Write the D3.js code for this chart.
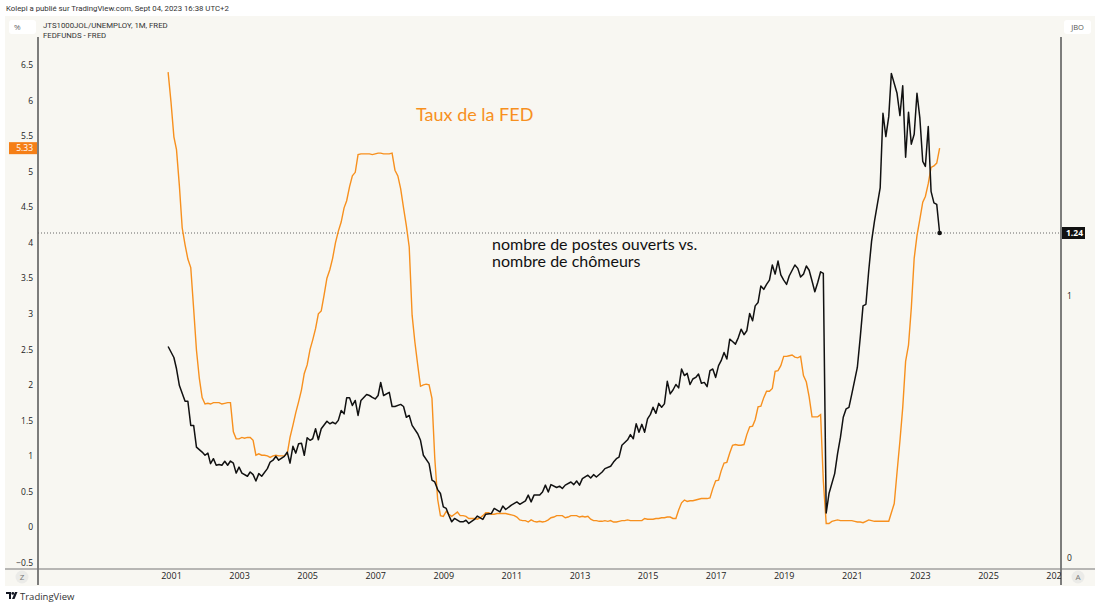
<!DOCTYPE html>
<html>
<head>
<meta charset="utf-8">
<title>Taux de la FED vs postes ouverts</title>
<script src="https://d3js.org/d3.v7.min.js"></script>
<style>
  * { margin:0; padding:0; }
  body { background:#fff; }
  svg text { font-family: "Open Sans", sans-serif; }
  .tick text { fill:#222; font-size:8.5px; }
  .xaxis .tick text { font-size:9px; }
  .small { font-family: Roboto, sans-serif !important; }
  .note { font-family: Lato, sans-serif !important; }
</style>
</head>
<body>
<svg id="chart" width="1100" height="608"></svg>
<script>
// FEDFUNDS, monthly, 2000-12 .. 2023-08 (left scale, %)
const fedStart = "2000-12";
const fedFunds = [6.40,
  5.98,5.49,5.31,4.80,4.21,3.97,3.77,3.65,3.07,2.49,2.09,1.82,
  1.73,1.74,1.73,1.75,1.75,1.75,1.73,1.74,1.75,1.75,1.34,1.24,
  1.24,1.26,1.25,1.26,1.26,1.22,1.01,1.03,1.01,1.01,1.00,0.98,
  1.00,1.01,1.00,1.00,1.00,1.03,1.26,1.43,1.61,1.76,1.93,2.16,
  2.28,2.50,2.63,2.79,3.00,3.04,3.26,3.50,3.62,3.78,4.00,4.16,
  4.29,4.49,4.59,4.79,4.94,4.99,5.24,5.25,5.25,5.25,5.25,5.24,
  5.25,5.26,5.26,5.25,5.25,5.25,5.26,5.02,4.94,4.76,4.49,4.24,
  3.94,2.98,2.61,2.28,1.98,2.00,2.01,2.00,1.81,0.97,0.39,0.16,
  0.15,0.22,0.18,0.15,0.18,0.21,0.16,0.16,0.15,0.12,0.12,0.12,
  0.11,0.13,0.16,0.20,0.20,0.18,0.18,0.19,0.19,0.19,0.19,0.18,
  0.17,0.16,0.14,0.10,0.09,0.09,0.07,0.10,0.08,0.07,0.08,0.07,
  0.08,0.10,0.13,0.14,0.16,0.16,0.16,0.13,0.14,0.16,0.16,0.16,
  0.14,0.15,0.14,0.15,0.11,0.09,0.09,0.08,0.08,0.09,0.08,0.09,
  0.07,0.07,0.08,0.09,0.09,0.10,0.09,0.09,0.09,0.09,0.09,0.12,
  0.11,0.11,0.11,0.12,0.12,0.13,0.13,0.14,0.14,0.12,0.12,0.24,
  0.34,0.38,0.36,0.37,0.37,0.38,0.39,0.40,0.40,0.40,0.41,0.54,
  0.65,0.66,0.79,0.90,0.91,1.04,1.15,1.16,1.15,1.15,1.16,1.30,
  1.41,1.42,1.51,1.69,1.70,1.82,1.91,1.91,1.95,2.19,2.20,2.27,
  2.40,2.40,2.41,2.42,2.39,2.38,2.40,2.13,2.04,1.83,1.55,1.55,
  1.55,1.58,0.65,0.05,0.05,0.08,0.09,0.10,0.09,0.09,0.09,0.09,
  0.09,0.08,0.07,0.07,0.06,0.08,0.10,0.09,0.08,0.08,0.08,0.08,
  0.08,0.08,0.20,0.33,0.77,1.21,1.68,2.33,2.56,3.08,3.78,4.10,
  4.33,4.57,4.65,4.83,5.06,5.08,5.12,5.33];

// JTS1000JOL/UNEMPLOY (right scale), months counted from 2000-12
const jobMonth = [0,2,3,4,6,7,8,9,10,12,13,14,15,16,17,18,19,20,21,22,23,24,25,26,28,29,30,31,32,33,35,36,37,38,39,41,42,43,44,45,46,47,48,49,50,51,52,53,54,56,57,58,59,60,61,62,63,64,65,66,67,68,70,71,72,73,74,75,76,78,79,80,82,83,84,85,86,88,89,90,92,93,94,95,96,97,98,99,100,101,103,104,105,106,108,109,111,112,114,115,117,118,119,121,123,124,126,127,128,129,131,132,133,134,135,137,138,139,140,142,143,144,145,146,148,149,150,151,153,154,156,157,158,159,160,162,163,164,165,166,167,168,169,170,171,172,173,174,175,176,177,178,179,180,181,182,183,184,185,186,187,188,189,190,191,192,193,194,195,196,197,198,199,200,201,202,203,204,205,206,207,208,209,210,211,212,213,214,215,216,217,218,219,221,222,223,224,225,226,227,228,229,230,231,232,233,235,236,237,238,239,240,241,243,244,245,246,247,248,249,251,252,253,254,255,257,258,259,260,261,262,263,264,265,266,267,268,269,270,271,272];
const jobRatio = [0.807,0.765,0.722,0.658,0.598,0.598,0.506,0.506,0.423,0.404,0.392,0.400,0.360,0.379,0.354,0.357,0.354,0.369,0.354,0.370,0.362,0.324,0.347,0.324,0.312,0.328,0.318,0.294,0.322,0.312,0.341,0.366,0.373,0.388,0.373,0.388,0.404,0.362,0.426,0.400,0.436,0.438,0.392,0.459,0.449,0.455,0.493,0.451,0.493,0.522,0.512,0.518,0.512,0.525,0.563,0.550,0.611,0.611,0.582,0.601,0.544,0.601,0.624,0.620,0.613,0.607,0.620,0.670,0.620,0.632,0.578,0.578,0.586,0.578,0.537,0.544,0.506,0.474,0.449,0.392,0.360,0.297,0.290,0.261,0.246,0.195,0.189,0.163,0.138,0.151,0.138,0.138,0.144,0.132,0.147,0.160,0.147,0.167,0.170,0.189,0.176,0.198,0.185,0.202,0.214,0.205,0.218,0.240,0.214,0.240,0.240,0.252,0.278,0.252,0.280,0.269,0.274,0.265,0.278,0.290,0.280,0.294,0.278,0.303,0.316,0.305,0.318,0.309,0.328,0.341,0.350,0.366,0.379,0.385,0.430,0.451,0.471,0.455,0.512,0.480,0.510,0.480,0.531,0.548,0.575,0.552,0.590,0.575,0.588,0.674,0.626,0.641,0.662,0.649,0.721,0.696,0.705,0.662,0.683,0.689,0.702,0.667,0.670,0.654,0.715,0.721,0.689,0.734,0.753,0.784,0.759,0.835,0.826,0.816,0.841,0.873,0.852,0.867,0.933,0.905,0.962,0.975,1.038,1.025,1.044,1.060,1.118,1.083,1.133,1.080,1.060,1.044,1.076,1.118,1.105,1.072,1.083,1.114,1.098,1.057,1.016,1.051,1.092,1.086,0.172,0.246,0.322,0.398,0.461,0.537,0.569,0.575,0.626,0.727,0.841,0.962,0.968,1.095,1.209,1.285,1.412,1.697,1.608,1.684,1.849,1.773,1.688,1.802,1.529,1.701,1.579,1.617,1.773,1.678,1.513,1.494,1.646,1.399,1.355,1.349,1.240];

const leftTicks = [-0.5,0,0.5,1,1.5,2,2.5,3,3.5,4,4.5,5,5.5,6,6.5];
const rightTicks = [0,1];
const yearTicks = [2001,2003,2005,2007,2009,2011,2013,2015,2017,2019,2021,2023,2025,2027];

const orange = "#f7901e";
const plot = {left:38, right:1061, top:37, bottom:569};

const svg = d3.select("#chart");
const parseMonth = d3.timeParse("%Y-%m");
const t0 = parseMonth(fedStart);

const fedData = fedFunds.map((v, i) => ({date: d3.timeMonth.offset(t0, i), v: v}));
const jobData = jobMonth.map((m, i) => ({date: d3.timeMonth.offset(t0, m), v: jobRatio[i]}));

const x = d3.scaleTime()
  .domain([new Date(2001, 0, 1), new Date(2025, 0, 1)])
  .range([171, 988]);
const yL = d3.scaleLinear().domain([0, 6.5]).range([527, 65]);
const yR = d3.scaleLinear().domain([0, 1.24]).range([558, 233]);

// panel background
svg.append("rect").attr("x", 5).attr("y", 16).attr("width", 1090).attr("height", 570).attr("fill", "#f8f7f2");

svg.append("text").attr("class", "small").attr("x", 6).attr("y", 11).attr("font-size", 7.8).attr("fill", "#333")
  .text("Kolepi a publié sur TradingView.com, Sept 04, 2023 16:38 UTC+2");

// clips
svg.append("clipPath").attr("id", "plotclip").append("rect")
  .attr("x", plot.left).attr("y", plot.top)
  .attr("width", plot.right - plot.left).attr("height", plot.bottom - plot.top);
svg.append("clipPath").attr("id", "xclip").append("rect")
  .attr("x", plot.left).attr("y", plot.bottom).attr("width", plot.right - plot.left).attr("height", 20);

// last value price line (dotted)
svg.append("line")
  .attr("x1", plot.left).attr("x2", plot.right)
  .attr("y1", yR(jobRatio[jobRatio.length - 1])).attr("y2", yR(jobRatio[jobRatio.length - 1]))
  .attr("stroke", "#666").attr("stroke-width", 1).attr("stroke-dasharray", "1,2");

const g = svg.append("g").attr("clip-path", "url(#plotclip)");

g.append("path").datum(fedData)
  .attr("fill", "none").attr("stroke", orange).attr("stroke-width", 1.4)
  .attr("d", d3.line().x(d => x(d.date)).y(d => yL(d.v)));

g.append("path").datum(jobData)
  .attr("fill", "none").attr("stroke", "#111").attr("stroke-width", 1.5)
  .attr("stroke-linejoin", "round")
  .attr("d", d3.line().x(d => x(d.date)).y(d => yR(d.v)));

const lastJob = jobData[jobData.length - 1];
g.append("circle").attr("cx", x(lastJob.date)).attr("cy", yR(lastJob.v)).attr("r", 2.3).attr("fill", "#111");

// axes lines
svg.append("line").attr("x1", plot.left).attr("x2", plot.left).attr("y1", plot.top).attr("y2", 585)
  .attr("stroke", "#555").attr("stroke-width", 1.5);
svg.append("line").attr("x1", plot.right).attr("x2", plot.right).attr("y1", plot.top).attr("y2", 585)
  .attr("stroke", "#555").attr("stroke-width", 1.5);
svg.append("line").attr("x1", 5).attr("x2", 1095).attr("y1", plot.bottom).attr("y2", plot.bottom)
  .attr("stroke", "#777").attr("stroke-width", 1.2);

// left axis
const leftAxis = svg.append("g").attr("transform", `translate(${plot.left},0)`)
  .call(d3.axisLeft(yL).tickValues(leftTicks).tickSize(0).tickPadding(5).tickFormat(d3.format("")));
leftAxis.select(".domain").remove();

// right axis
const rightAxis = svg.append("g").attr("transform", `translate(${plot.right},0)`)
  .call(d3.axisRight(yR).tickValues(rightTicks).tickSize(0).tickPadding(6).tickFormat(d3.format("")));
rightAxis.select(".domain").remove();

// x axis (labels clipped at the right price scale, like "202")
const xWrap = svg.append("g").attr("clip-path", "url(#xclip)");
const xAxis = xWrap.append("g").attr("class", "xaxis")
  .attr("transform", `translate(0,${plot.bottom})`)
  .call(d3.axisBottom(x).tickValues(yearTicks.map(yr => new Date(yr, 0, 1))).tickSize(0).tickPadding(4)
    .tickFormat(d3.timeFormat("%Y")));
xAxis.select(".domain").remove();

// last value labels
const lastFed = fedFunds[fedFunds.length - 1];
svg.append("rect").attr("x", 9).attr("y", yL(lastFed) - 6).attr("width", 28).attr("height", 12).attr("fill", "#f57f17");
svg.append("text").attr("x", 33).attr("y", yL(lastFed) + 3).attr("text-anchor", "end")
  .attr("font-size", 8.5).attr("fill", "#fff").text(lastFed.toFixed(2));
svg.append("rect").attr("x", 1062).attr("y", yR(lastJob.v) - 6).attr("width", 23).attr("height", 12).attr("fill", "#111");
svg.append("text").attr("x", 1066).attr("y", yR(lastJob.v) + 3)
  .attr("font-size", 8.5).attr("fill", "#fff").attr("font-weight", "bold").text(lastJob.v.toFixed(2));

// header boxes and legend
svg.append("rect").attr("x", 9).attr("y", 20).attr("width", 27).attr("height", 14).attr("rx", 3).attr("fill", "#fff");
svg.append("text").attr("x", 14).attr("y", 30).attr("font-size", 8).attr("fill", "#666").text("%");
svg.append("rect").attr("x", 1064).attr("y", 20).attr("width", 27).attr("height", 14).attr("rx", 3).attr("fill", "#fff");
svg.append("text").attr("x", 1077.5).attr("y", 30).attr("text-anchor", "middle").attr("font-size", 7.5).attr("fill", "#555").text("JBO");

svg.append("text").attr("class", "small").attr("x", 43).attr("y", 28).attr("font-size", 7.8).attr("fill", "#333").text("JTS1000JOL/UNEMPLOY, 1M, FRED");
svg.append("text").attr("class", "small").attr("x", 43).attr("y", 38).attr("font-size", 7.8).attr("fill", "#333").text("FEDFUNDS - FRED");

// bottom buttons
svg.append("circle").attr("cx", 22).attr("cy", 577).attr("r", 6.5).attr("fill", "#ebebe8");
svg.append("text").attr("x", 22).attr("y", 580).attr("text-anchor", "middle").attr("font-size", 8).attr("fill", "#777").text("Z");
svg.append("circle").attr("cx", 1078).attr("cy", 577).attr("r", 6.5).attr("fill", "#ebebe8");
svg.append("text").attr("x", 1078).attr("y", 580).attr("text-anchor", "middle").attr("font-size", 8).attr("fill", "#777").text("A");

// annotations
svg.append("text").attr("class", "note").attr("x", 416).attr("y", 121).attr("font-size", 18).attr("fill", orange).text("Taux de la FED");
const note = svg.append("text").attr("class", "note").attr("x", 492).attr("y", 250).attr("font-size", 16).attr("fill", "#111");
note.append("tspan").attr("x", 492).attr("y", 250).text("nombre de postes ouverts vs.");
note.append("tspan").attr("x", 492).attr("y", 267).text("nombre de chômeurs");

// TradingView logo
const logo = svg.append("g").attr("transform", "translate(6,592)").attr("fill", "#131722");
logo.append("path").attr("d", "M0,0 H5 V7 H3 V2 H0 Z");
logo.append("circle").attr("cx", 6.8).attr("cy", 1.4).attr("r", 1.4);
logo.append("path").attr("d", "M9,0 H11.5 L8.5,7 H6 Z");
svg.append("text").attr("x", 20).attr("y", 600).attr("font-size", 9.5).attr("fill", "#333").text("TradingView");
</script>
</body>
</html>
